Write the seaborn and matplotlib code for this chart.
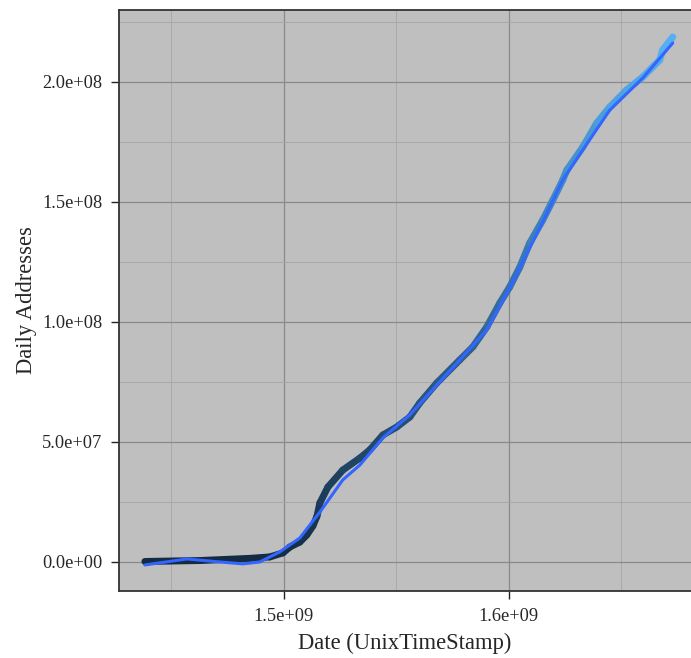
import numpy as np
import pandas as pd
import matplotlib
matplotlib.use('Agg')
import matplotlib.pyplot as plt
import seaborn as sns
from matplotlib.collections import LineCollection
from matplotlib.ticker import FuncFormatter, MultipleLocator

# 数据：从图上读出来的值 (日期为 unix 时间戳, 地址数)
date_e9 = [1.4382, 1.4627, 1.4849, 1.4938, 1.4996, 1.5027, 1.5071, 1.5102, 1.5129,
           1.5147, 1.5160, 1.5196, 1.5262, 1.5338, 1.5382, 1.5440, 1.5502, 1.5560,
           1.5604, 1.5680, 1.5782, 1.5840, 1.5902, 1.5960, 1.6004, 1.6049, 1.6093,
           1.6151, 1.6196, 1.6240, 1.6258, 1.6329, 1.6391, 1.6449, 1.6524, 1.6596,
           1.6671, 1.6684, 1.6729]
addr_e6 = [0.2, 0.6, 1.5, 2.1, 3.8, 6.25, 8.3, 11.25, 15.0,
           19.0, 24.6, 31.25, 38.3, 43.3, 46.7, 52.9, 56.25, 60.4,
           66.25, 74.6, 84.2, 89.6, 97.9, 107.9, 114.6, 122.9, 132.9,
           142.5, 150.8, 159.2, 163.3, 172.9, 182.9, 189.6, 196.7, 202.1,
           209.2, 213.3, 218.75]

# 平滑曲线 (geom_smooth 那条蓝线)
smooth_date_e9 = [1.4382, 1.4569, 1.4716, 1.4818, 1.4893, 1.4982, 1.5071, 1.5160,
                  1.5262, 1.5338, 1.5440, 1.5560, 1.5680, 1.5782, 1.5902, 1.6004,
                  1.6151, 1.6240, 1.6329, 1.6449, 1.6596, 1.6729]
smooth_addr_e6 = [-1.25, 1.25, 0.0, -0.8, 0.0, 4.2, 10.0, 20.8,
                  34.2, 40.4, 51.7, 61.25, 73.75, 84.2, 96.7, 114.2,
                  141.7, 159.2, 171.7, 188.3, 201.7, 216.25]

df = pd.DataFrame({'date': np.array(date_e9) * 1e9, 'addr': np.array(addr_e6) * 1e6})
sm = pd.DataFrame({'date': np.array(smooth_date_e9) * 1e9, 'addr': np.array(smooth_addr_e6) * 1e6})

sns.set_style("white")
plt.rcParams['font.family'] = ['Liberation Serif', 'DejaVu Serif']

fig = plt.figure(figsize=(6.91, 6.58), dpi=100)
ax = fig.add_axes([119 / 691, 67 / 658, 572 / 691, 581 / 658])
ax.set_facecolor('#bfbfbf')

# 渐变色的粗线，颜色按地址数
cmap = sns.blend_palette(['#132B43', '#56B1F7'], as_cmap=True)
pts = df[['date', 'addr']].values
segs = np.stack([pts[:-1], pts[1:]], axis=1)
mid = (df['addr'].values[:-1] + df['addr'].values[1:]) / 2
norm = plt.Normalize(df['addr'].min(), df['addr'].max())
lc = LineCollection(segs, colors=cmap(norm(mid)), linewidths=5.0,
                    capstyle='round', joinstyle='round', zorder=3)
ax.add_collection(lc)

# 平滑线
sns.lineplot(x='date', y='addr', data=sm, color='#3366FF', linewidth=2.2,
             ax=ax, zorder=4, sort=False)

ax.set_xlim(1.4267e9, 1.681e9)
ax.set_ylim(-1.21e7, 2.3e8)

ax.xaxis.set_major_locator(MultipleLocator(1e8))
ax.xaxis.set_minor_locator(MultipleLocator(5e7))
ax.yaxis.set_major_locator(MultipleLocator(5e7))
ax.yaxis.set_minor_locator(MultipleLocator(2.5e7))
fmt = FuncFormatter(lambda v, p: '%.1e' % v)
ax.xaxis.set_major_formatter(fmt)
ax.yaxis.set_major_formatter(fmt)

ax.grid(which='major', color='#8a8a8a', linewidth=0.9)
ax.grid(which='minor', color='#a5a5a5', linewidth=0.6)
ax.set_axisbelow(True)

ax.tick_params(which='major', direction='out', length=6, width=1.0, color='#222222',
               labelsize=13.2, pad=6, bottom=True, left=True)
ax.tick_params(which='minor', length=0)

for s in ['left', 'bottom', 'top']:
    ax.spines[s].set_color('#333333')
    ax.spines[s].set_linewidth(1.3)
ax.spines['right'].set_visible(False)

ax.set_xlabel('Date (UnixTimeStamp)', fontsize=16.3, labelpad=6)
ax.set_ylabel('Daily Addresses', fontsize=16.3, labelpad=4)

plt.savefig('out.png', dpi=100)
